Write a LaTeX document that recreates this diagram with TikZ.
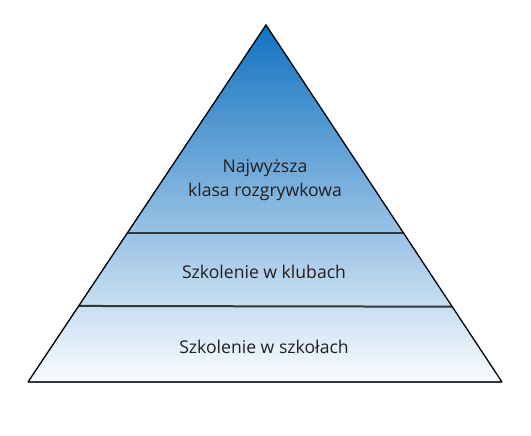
\documentclass[tikz,border=0pt]{standalone}
\usepackage{fontspec}
\setmainfont{Open Sans}
\usetikzlibrary{calc}
\definecolor{topblue}{RGB}{18,114,192}
\definecolor{bottomblue}{RGB}{250,252,255}
\definecolor{layerline}{RGB}{52,56,62}
\definecolor{labeltext}{RGB}{35,31,32}

\begin{document}
\begin{tikzpicture}[x=1pt, y=1pt,
            every node/.style={font=\fontsize{17.6}{24.5}\selectfont, align=center, text=labeltext, inner sep=0pt},
            layer/.style={draw=layerline, line width=2pt}]
        \useasboundingbox (0,0) rectangle (531,436);
        \coordinate (apex) at (266,411);
        \coordinate (baseL) at (28,54);
        \coordinate (baseR) at (502,54);

        % pyramid body
        \shade[top color=topblue, bottom color=bottomblue]
            (apex) -- (baseL) -- (baseR) -- cycle;

        % layer borders
        \draw[layer] ($(apex)!0.583!(baseL)$) coordinate (upL) --
            ($(apex)!0.583!(baseR)$) coordinate (upR);
        \draw[layer] ($(apex)!0.787!(baseL)$) coordinate (lowL) --
            ($(apex)!0.789!(baseR)$) coordinate (lowR);
        \draw[layer] (baseL) -- (baseR);
        \draw[black, line width=1.3pt, line join=miter] (baseL) -- (apex) -- (baseR);

        \node (league) at (265,256) {Najwyższa\\klasa rozgrywkowa};
        \node (clubs) at (264,164) {Szkolenie w klubach};
        \node (schools) at (264,89) {Szkolenie w szkołach};
\end{tikzpicture}
\end{document}
